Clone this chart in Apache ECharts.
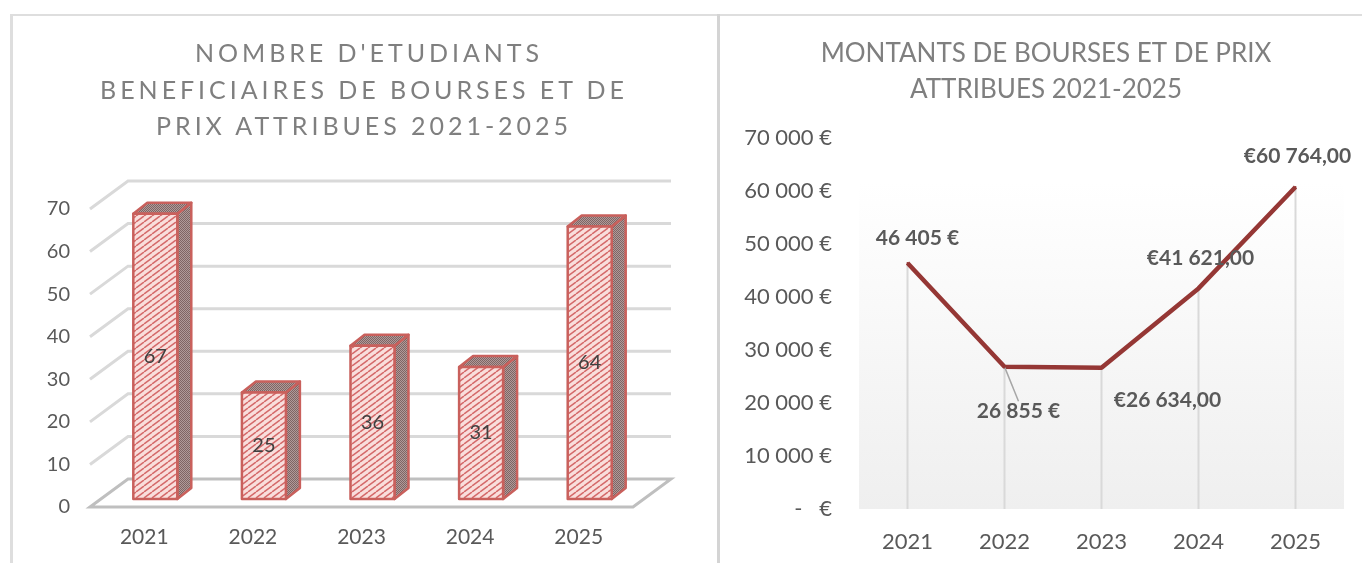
<!DOCTYPE html>
<html lang="fr">

<head>
    <meta charset="UTF-8">
    <title>Bourses et prix 2021-2025</title>
    <script src="https://cdn.jsdelivr.net/npm/echarts@6/dist/echarts.min.js"></script>
</head>
<style>
    html, body { margin: 0; padding: 0; background: #fff; overflow: hidden; }
    #wrap { position: relative; width: 1362px; height: 563px; }
    #box { width: 1362px; height: 563px; }
    /* canvas text has no letter spacing, so this title stays in html */
    #leftTitle {
        position: absolute; left: 14px; top: 34px; width: 700px; text-align: center;
        font: 25px/36.5px Lato, sans-serif; letter-spacing: 3.95px; color: #7f7f7f;
    }
    #leftTitle span { position: relative; left: 5px; }
</style>

<body>
    <div id="wrap">
        <div id="box"></div>
        <div id="leftTitle"><span>NOMBRE D'ETUDIANTS</span><br>BENEFICIAIRES DE BOURSES ET DE<br>PRIX ATTRIBUES 2021-2025</div>
    </div>
</body>
<script>
    const years = ["2021", "2022", "2023", "2024", "2025"];
    const studentCounts = [67, 25, 36, 31, 64];
    const studentTicks = [0, 10, 20, 30, 40, 50, 60, 70];
    const amounts = [46405, 26855, 26634, 41621, 60764];
    const amountLabels = ["46 405 €", "26 855 €", "€26 634,00", "€41 621,00", "€60 764,00"];
    const amountTicks = ["-   €", "10 000 €", "20 000 €", "30 000 €", "40 000 €", "50 000 €", "60 000 €", "70 000 €"];
    const rightTitle = "MONTANTS DE BOURSES ET DE PRIX\nATTRIBUES 2021-2025";

    // pattern tiles for the 3d bars
    function frontTile() {
        const c = document.createElement("canvas");
        c.width = 8; c.height = 6;
        const ctx = c.getContext("2d");
        ctx.fillStyle = "#f9dedc";
        ctx.fillRect(0, 0, 8, 6);
        ctx.strokeStyle = "#d4696a";
        ctx.lineWidth = 1.5;
        for (let i = -8; i <= 8; i += 8) {
            ctx.beginPath();
            ctx.moveTo(i, 6);
            ctx.lineTo(i + 8, 0);
            ctx.stroke();
        }
        return c;
    }
    function darkTile() {
        const c = document.createElement("canvas");
        c.width = 2; c.height = 2;
        const ctx = c.getContext("2d");
        ctx.fillStyle = "#b09a99";
        ctx.fillRect(0, 0, 2, 2);
        ctx.fillStyle = "#7f6564";
        ctx.fillRect(0, 0, 1, 1);
        ctx.fillRect(1, 1, 1, 1);
        return c;
    }
    const frontFill = { image: frontTile(), repeat: "repeat" };
    const darkFill = { image: darkTile(), repeat: "repeat" };

    // walls and floor of the fake 3d box
    const wallDx = 38, wallDy = -28;
    function renderWall(params, api) {
        const v = api.value(0);
        const p = api.coord([0, v]);
        const band = api.size([1, 0])[0];
        const x0 = p[0] - band / 2;
        const x1 = x0 + band * years.length;
        const y = p[1];
        if (v === 0) {
            return {
                type: "polygon",
                shape: { points: [[x0, y], [x0 + wallDx, y + wallDy], [x1 + wallDx, y + wallDy], [x1, y]] },
                style: { fill: "none", stroke: "#bfbfbf", lineWidth: 3 },
            };
        }
        return {
            type: "polyline",
            shape: { points: [[x0, y], [x0 + wallDx, y + wallDy], [x1 + wallDx, y + wallDy]] },
            style: { fill: "none", stroke: "#d9d9d9", lineWidth: 3 },
        };
    }

    function renderBar(params, api) {
        const top = api.coord([api.value(0), api.value(1)]);
        const base = api.coord([api.value(0), 0]);
        const w = api.size([1, 0])[0] * 0.405;
        const x = top[0] + 11 - w / 2, y0 = top[1] - 8, y1 = base[1] - 8;
        const dx = 14, dy = -11;
        const line = { stroke: "#c9605c", lineWidth: 2.5, lineJoin: "round" };
        return {
            type: "group",
            children: [
                {
                    type: "polygon",
                    shape: { points: [[x + w, y0], [x + w + dx, y0 + dy], [x + w + dx, y1 + dy], [x + w, y1]] },
                    style: Object.assign({ fill: darkFill }, line),
                },
                {
                    type: "polygon",
                    shape: { points: [[x, y0], [x + dx, y0 + dy], [x + w + dx, y0 + dy], [x + w, y0]] },
                    style: Object.assign({ fill: darkFill }, line),
                },
                {
                    type: "rect",
                    shape: { x: x, y: y0, width: w, height: y1 - y0 },
                    style: Object.assign({ fill: frontFill }, line),
                },
                {
                    type: "text",
                    x: x + w / 2,
                    y: (y0 + y1) / 2,
                    style: {
                        text: String(api.value(1)),
                        align: "center",
                        verticalAlign: "middle",
                        font: "20px Lato, sans-serif",
                        fill: "#404040",
                    },
                },
            ],
        };
    }

    const labelMoves = [[10, -25], [14, 45], [66, 32], [2, -30], [2, -31]];

    var myChart = echarts.init(document.getElementById("box"));
    myChart.setOption({
        animation: false,
        textStyle: { fontFamily: "Lato, sans-serif" },
        title: {
            text: rightTitle,
            left: 1041,
            top: 31,
            textAlign: "center",
            textStyle: { color: "#7f7f7f", fontSize: 26, fontWeight: "normal", lineHeight: 36 },
        },
        graphic: [
            { type: "rect", shape: { x: 10, y: 14, width: 1352, height: 2 }, style: { fill: "#dedede" } },
            { type: "rect", shape: { x: 10, y: 14, width: 3, height: 549 }, style: { fill: "#dedede" } },
            { type: "rect", shape: { x: 717, y: 14, width: 3, height: 549 }, style: { fill: "#d4d4d4" } },
        ],
        grid: [
            { left: 90, width: 543, top: 209, height: 298 },
            {
                left: 859, width: 485, top: 138, height: 371, show: true, borderWidth: 0,
                backgroundColor: new echarts.graphic.LinearGradient(0, 0, 0, 1, [
                    { offset: 0.12, color: "#ffffff" },
                    { offset: 1, color: "#efefef" },
                ]),
            },
        ],
        xAxis: [
            {
                gridIndex: 0, type: "category", data: years,
                axisLine: { show: false }, axisTick: { show: false },
                axisLabel: { color: "#595959", fontSize: 21, margin: 20 },
            },
            {
                gridIndex: 1, type: "category", data: years,
                axisLine: { show: false }, axisTick: { show: false },
                axisLabel: { color: "#595959", fontSize: 22, margin: 22 },
            },
        ],
        yAxis: [
            {
                gridIndex: 0, type: "value", min: 0, max: 70, interval: 10,
                axisLine: { show: false }, axisTick: { show: false }, splitLine: { show: false },
                axisLabel: { color: "#595959", fontSize: 20, margin: 20 },
            },
            {
                gridIndex: 1, type: "value", min: 0, max: 70000, interval: 10000,
                axisLine: { show: false }, axisTick: { show: false }, splitLine: { show: false },
                axisLabel: {
                    color: "#595959", fontSize: 22, margin: 27,
                    formatter: function (value) {
                        return amountTicks[value / 10000];
                    },
                },
            },
        ],
        series: [
            {
                type: "custom", xAxisIndex: 0, yAxisIndex: 0, z: 1, silent: true, clip: false,
                data: studentTicks.map(function (t) { return [t]; }),
                encode: { y: 0 },
                renderItem: renderWall,
            },
            {
                type: "custom", xAxisIndex: 0, yAxisIndex: 0, z: 2, silent: true, clip: false,
                data: studentCounts.map(function (v, i) { return [i, v]; }),
                encode: { x: 0, y: 1 },
                renderItem: renderBar,
            },
            // drop lines
            {
                type: "bar", xAxisIndex: 1, yAxisIndex: 1, z: 1, silent: true,
                barWidth: 2, data: amounts, itemStyle: { color: "#d9d9d9" },
            },
            {
                type: "line", xAxisIndex: 1, yAxisIndex: 1, z: 3, silent: true,
                data: amounts.map(function (v, i) {
                    return {
                        value: v,
                        labelLine: { show: i === 1, lineStyle: { color: "#a6a6a6", width: 1.5 } },
                    };
                }),
                symbol: "circle", symbolSize: 2,
                itemStyle: { color: "#953735" },
                lineStyle: { color: "#953735", width: 4.5 },
                label: {
                    show: true, position: "inside", align: "center", verticalAlign: "middle",
                    color: "#595959", fontSize: 21, fontWeight: "bold",
                    formatter: function (p) { return amountLabels[p.dataIndex]; },
                },
                labelLayout: function (p) {
                    return { dx: labelMoves[p.dataIndex][0], dy: labelMoves[p.dataIndex][1] };
                },
            },
        ],
    });
</script>

</html>
